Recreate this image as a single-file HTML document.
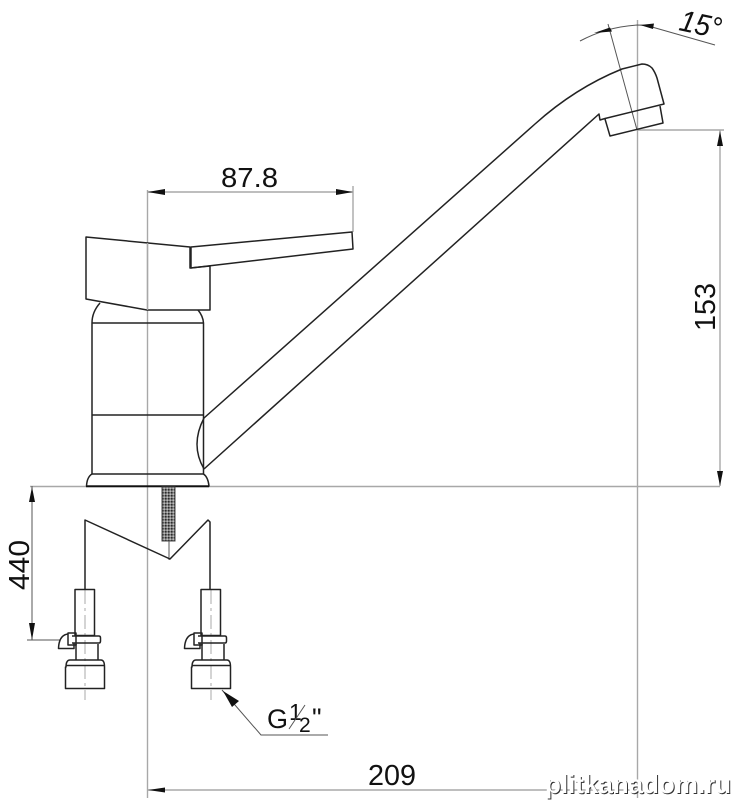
<!DOCTYPE html>
<html>
<head>
<meta charset="utf-8">
<style>
html,body{margin:0;padding:0;background:#fff;width:732px;height:800px;overflow:hidden}
svg{display:block}
text{font-family:"Liberation Sans",sans-serif;fill:#111}
.k{fill:none;stroke:#222;stroke-width:1.5;stroke-linejoin:round}
.g{fill:none;stroke:#a8a8a8;stroke-width:1.4}
.t{fill:none;stroke:#555;stroke-width:1}
.a{fill:#111;stroke:none}
.c{fill:none;stroke:#aaa;stroke-width:1;stroke-dasharray:14 4 3 4}
</style>
</head>
<body>
<svg width="732" height="800" viewBox="0 0 732 800" xmlns="http://www.w3.org/2000/svg">
<defs>
<pattern id="h" width="3" height="3" patternUnits="userSpaceOnUse">
<rect width="3" height="3" fill="#808080"/>
<rect width="1.5" height="1.5" fill="#2a2a2a"/>
<rect x="1.5" y="1.5" width="1.5" height="1.5" fill="#bbb"/>
</pattern>
<g id="valve">
<path class="c" d="M85 590V700"/>
<rect class="k" x="75" y="589.500" width="19.500" height="46"/>
<path class="k" d="M72 636H99Q100.500 636 100.500 638V641Q100.500 643 99 643H72"/>
<path class="k" d="M68 634Q59 635 58.500 648.500H74V643"/>
<rect class="k" x="68" y="633" width="8" height="12" fill="#fff"/>
<path class="k" d="M76 644V660M98 644V660"/>
<path class="k" d="M66 667Q66 660 70 660H101Q104.500 660 104.500 667V688.500H65.500V667Z"/>
<path class="k" d="M66 665.500H104"/>
</g>
</defs>

<!-- Grey dimension and extension lines -->
<path class="g" d="M30 486.500H720"/>
<path class="g" d="M147.500 190V798"/>
<path class="g" d="M637.500 20V798"/>
<path class="g" d="M353 186V232"/>
<path class="g" d="M147 192H353"/>
<path class="g" d="M637 130H724"/>
<path class="g" d="M720 130V486"/>
<path class="g" d="M148 790H637"/>
<path class="t" d="M32 486V640M27 640H60"/>
<path class="t" d="M608 24L637 130"/>
<path class="t" d="M580 41Q606 27 637 25Q646 25 652 27L715 45"/>
<path class="t" d="M222 690L261 735H328"/>

<!-- Arrowheads -->
<path class="a" d="M147.500 192L165 189V195Z"/>
<path class="a" d="M353 192L336 189V195Z"/>
<path class="a" d="M720 131L717 146H723Z"/>
<path class="a" d="M720 486L717 471H723Z"/>
<path class="a" d="M32 487L29 502H35Z"/>
<path class="a" d="M32 640L29 623H35Z"/>
<path class="a" d="M148 790L165 787.500V792.500Z"/>
<path class="a" d="M594 33L610 27.500L612 31.500Z" />
<path class="a" d="M640 25L654 23.500L653 29Z"/>
<path class="a" d="M223 691L239 701L232 707Z"/>

<!-- Lever -->
<path class="k" d="M86 237L190 247V268L210 266V310H147L86 299Z" fill="#fff"/>
<path class="k" d="M191 247L352 232L353 249L191 268Z" fill="#fff"/>
<path class="g" d="M147.500 243V310"/>

<!-- Body -->
<path class="k" d="M100 303Q92 312 92 323V474M198 310Q203 316 203.500 323V474M92 323H203.500M92 415H203.500M92 474H203.500"/>
<path class="k" d="M92 474Q87 477 86.500 486H209Q208 477 203.500 474"/>
<path d="M86 486.500H209" stroke="#111" stroke-width="1.600"/>

<!-- Spout -->
<path class="k" d="M204 418L535 124Q575 88 622 69L642 64Q648 64 652 68Q655 72 657 78L664 104L605 118.500L600 120L599 114L204 469"/>
<path class="k" d="M204 418Q190 445 204 469"/>
<path class="k" d="M605 119L610 136L663 123L660 106"/>

<!-- Stem and hoses -->
<rect x="162" y="487" width="13" height="54" fill="url(#h)" stroke="#444" stroke-width="1"/>
<path class="t" d="M169 541V560"/>
<path class="k" d="M85 589V520L170 559L208 520L210 522V589" stroke-width="1.300"/>

<!-- Valves -->
<use href="#valve"/>
<use href="#valve" x="126"/>

<!-- Labels -->
<text x="221" y="187" font-size="28" textLength="57" lengthAdjust="spacingAndGlyphs">87.8</text>
<text x="678" y="30" font-size="30" font-style="italic" transform="rotate(12 678 30)" textLength="42" lengthAdjust="spacingAndGlyphs">15°</text>
<text transform="translate(715 331) rotate(-90)" font-size="29" textLength="48" lengthAdjust="spacingAndGlyphs">153</text>
<text transform="translate(29 590) rotate(-90)" font-size="29" textLength="50" lengthAdjust="spacingAndGlyphs">440</text>
<text x="267" y="728" font-size="27">G</text>
<text x="289" y="720" font-size="23">1</text>
<path d="M289 729L305 705" stroke="#555" stroke-width="1"/>
<text x="299" y="732" font-size="21">2</text>
<text x="312" y="727" font-size="27">"</text>
<text x="368" y="785" font-size="29" textLength="48" lengthAdjust="spacingAndGlyphs">209</text>

<!-- Watermark -->
<text x="545" y="793" font-size="26" font-weight="bold" textLength="186" lengthAdjust="spacingAndGlyphs" style="fill:#fff;filter:drop-shadow(1px 1px 0 #333)">plitkanadom.ru</text>
</svg>
</body>
</html>
